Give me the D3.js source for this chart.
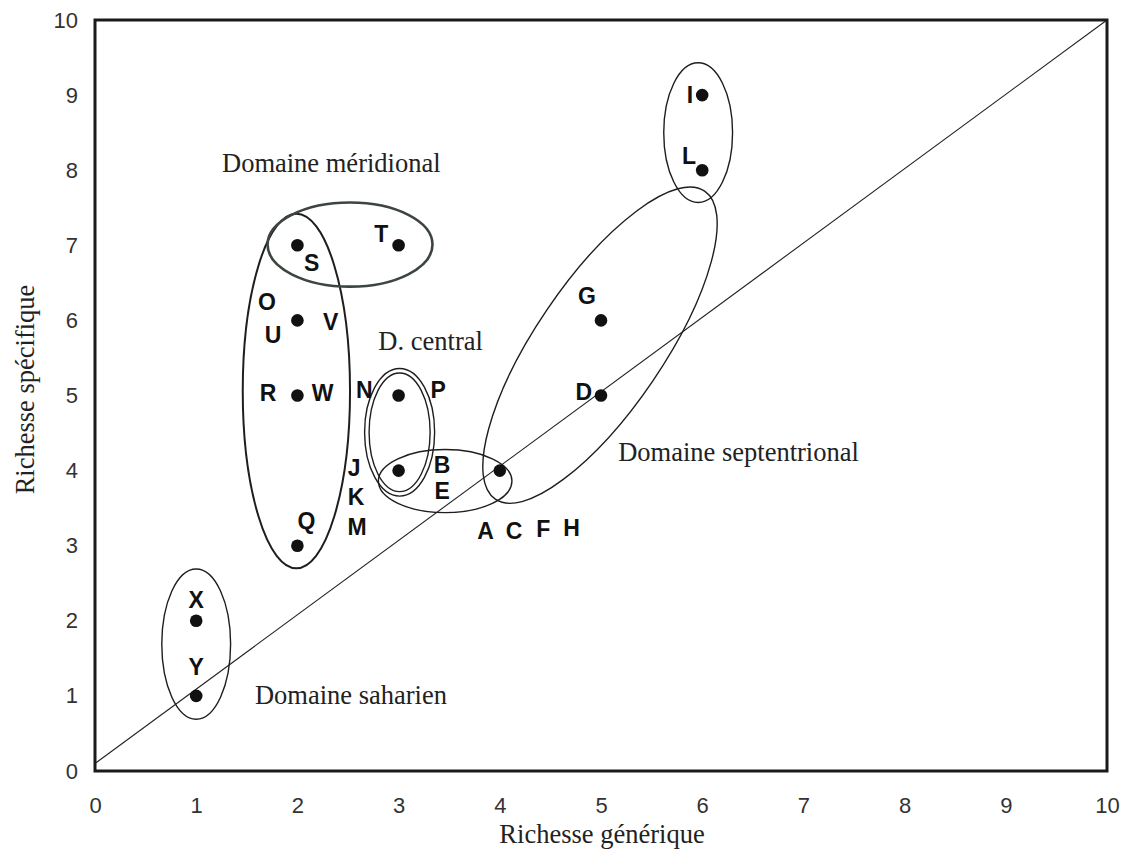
<!DOCTYPE html>
<html>
<head>
<meta charset="utf-8">
<script src="https://cdn.jsdelivr.net/npm/d3@7/dist/d3.min.js"></script>
<style>
  body { margin: 0; background: #fff; }
  .tick-label { font-family: "Liberation Sans", Arial, sans-serif; font-size: 22px; fill: #333; }
  .pt-label { font-family: "Liberation Sans", Arial, sans-serif; font-size: 23px; font-weight: bold; fill: #111; }
  .serif { font-family: "Liberation Serif", "Times New Roman", serif; font-size: 26.5px; fill: #222; }
</style>
</head>
<body>
<div id="chart"></div>
<script>
// stations: generic richness (x) vs specific richness (y)
var pointX = [1, 1, 2, 2, 2, 2, 3, 3, 3, 4, 5, 5, 6, 6];
var pointY = [1, 2, 3, 5, 6, 7, 7, 5, 4, 4, 5, 6, 8, 9];

// letters placed next to the points (data coordinates)
var labelText = ["Y", "X", "Q", "R", "W", "O", "U", "V", "S", "T", "N", "P", "J", "K", "M", "B", "E", "A", "C", "F", "H", "D", "G", "L", "I"];
var labelX = [1.00, 1.00, 2.09, 1.71, 2.25, 1.70, 1.76, 2.33, 2.14, 2.83, 2.66, 3.39, 2.56, 2.58, 2.59, 3.43, 3.43, 3.86, 4.14, 4.43, 4.71, 4.83, 4.86, 5.87, 5.88];
var labelY = [1.38, 2.28, 3.33, 5.03, 5.03, 6.24, 5.81, 5.98, 6.76, 7.15, 5.08, 5.08, 4.03, 3.65, 3.25, 4.07, 3.73, 3.20, 3.20, 3.22, 3.24, 5.05, 6.32, 8.19, 9.00];

// domain groupings: centre, semi-axes (x units / y units) and tilt
var groupName = ["saharien", "meridional", "meridional-top", "central", "central-low", "septentrional", "top"];
var groupCx = [1.00, 1.99, 2.52, 3.01, 3.46, 4.99, 5.96];
var groupCy = [1.69, 5.06, 7.01, 4.51, 3.86, 5.67, 8.50];
var groupRx = [0.34, 0.53, 0.815, 0.346, 0.66, 1.84, 0.34];
var groupRy = [1.00, 2.36, 0.56, 0.85, 0.42, 0.63, 0.93];
var groupAngle = [0, 0, 0, 0, 0, 55.8, 0];

var domainText = ["Domaine méridional", "D. central", "Domaine septentrional", "Domaine saharien"];
var domainX = [1.255, 2.80, 5.17, 1.58];
var domainY = [7.98, 5.61, 4.13, 0.89];

var xTicks = [0, 1, 2, 3, 4, 5, 6, 7, 8, 9, 10];
var yTicks = [0, 1, 2, 3, 4, 5, 6, 7, 8, 9, 10];

var width = 1126, height = 866;
var margin = { top: 20, right: 19, bottom: 95, left: 95 };

var svg = d3.select("#chart").append("svg")
    .attr("width", width)
    .attr("height", height);

var x = d3.scaleLinear().domain([0, 10]).range([margin.left, width - margin.right]);
var y = d3.scaleLinear().domain([0, 10]).range([height - margin.bottom, margin.top]);
var pxPerX = x(1) - x(0);
var pxPerY = y(0) - y(1);

// 1:1 reference line
svg.append("line")
    .attr("x1", x(0)).attr("y1", y(0.1))
    .attr("x2", x(10)).attr("y2", y(10))
    .attr("stroke", "#222")
    .attr("stroke-width", 1.1);

// group ellipses
groupName.forEach(function(name, i) {
    var rx = groupRx[i] * pxPerX;
    // tilted ellipse: both semi-axes measured in x units
    var ry = groupAngle[i] !== 0 ? groupRy[i] * pxPerX : groupRy[i] * pxPerY;
    var g = svg.append("g")
        .attr("transform", `translate(${x(groupCx[i])}, ${y(groupCy[i])}) rotate(${-groupAngle[i]})`);
    var sw = name === "meridional-top" ? 2.6 : (name === "meridional" ? 2 : 1.4);
    var col = name === "meridional-top" ? "#3c463e" : "#1e1e1e";
    g.append("ellipse")
        .attr("rx", rx).attr("ry", ry)
        .attr("fill", "none")
        .attr("stroke", col)
        .attr("stroke-width", sw);
    if (name === "central") {
        g.append("ellipse")
            .attr("rx", rx - 4.5).attr("ry", ry - 4.5)
            .attr("fill", "none")
            .attr("stroke", col)
            .attr("stroke-width", 1.4);
    }
});

// frame
svg.append("rect")
    .attr("x", x(0)).attr("y", y(10))
    .attr("width", x(10) - x(0))
    .attr("height", y(0) - y(10))
    .attr("fill", "none")
    .attr("stroke", "#1a1a1a")
    .attr("stroke-width", 3);

// axes
var xAxis = svg.append("g")
    .attr("transform", `translate(0, ${y(0)})`)
    .call(d3.axisBottom(x).tickValues(xTicks).tickSize(0).tickPadding(26).tickFormat(d3.format("d")));
var yAxis = svg.append("g")
    .attr("transform", `translate(${x(0)}, 0)`)
    .call(d3.axisLeft(y).tickValues(yTicks).tickSize(0).tickPadding(17).tickFormat(d3.format("d")));
[xAxis, yAxis].forEach(function(a) {
    a.select(".domain").remove();
    a.selectAll("text").attr("class", "tick-label").attr("font-family", null).attr("font-size", null);
});

// points
svg.selectAll(".dot")
    .data(pointX.map(function(d, i) { return { x: d, y: pointY[i] }; }))
    .enter()
    .append("circle")
    .attr("class", "dot")
    .attr("cx", d => x(d.x))
    .attr("cy", d => y(d.y))
    .attr("r", 6.3)
    .attr("fill", "#111");

svg.selectAll(".pt-label")
    .data(labelText)
    .enter()
    .append("text")
    .attr("class", "pt-label")
    .attr("x", (d, i) => x(labelX[i]))
    .attr("y", (d, i) => y(labelY[i]))
    .attr("text-anchor", "middle")
    .attr("dy", "0.35em")
    .text(d => d);

svg.selectAll(".domain-label")
    .data(domainText)
    .enter()
    .append("text")
    .attr("class", "serif")
    .attr("x", (d, i) => x(domainX[i]))
    .attr("y", (d, i) => y(domainY[i]))
    .text(d => d);

// axis titles
svg.append("text")
    .attr("class", "serif")
    .attr("x", (x(0) + x(10)) / 2 + 1)
    .attr("y", 843)
    .attr("text-anchor", "middle")
    .text("Richesse générique");

svg.append("text")
    .attr("class", "serif")
    .attr("transform", `translate(34, ${y(5) - 6}) rotate(-90)`)
    .attr("text-anchor", "middle")
    .text("Richesse spécifique");
</script>
</body>
</html>
